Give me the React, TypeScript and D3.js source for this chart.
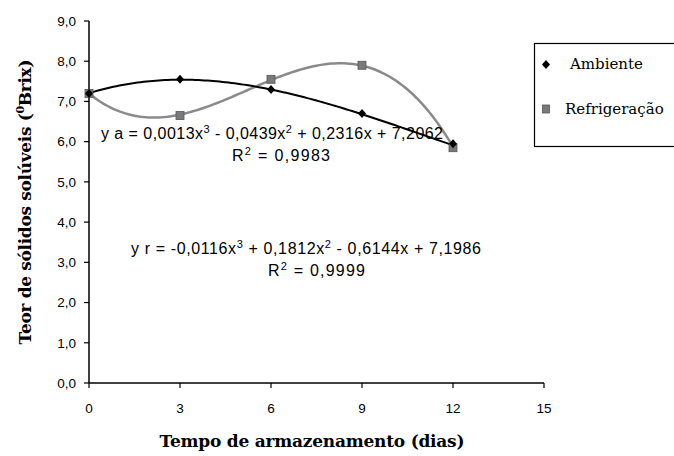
import React from "react";
import * as d3 from "d3";

// Storage time (days)
const days = [0, 3, 6, 9, 12];
// Soluble solids (°Brix) per storage condition
const ambiente = [7.2, 7.55, 7.3, 6.7, 5.95];
const refrigeracao = [7.2, 6.65, 7.55, 7.9, 5.85];

// Cubic trendline coefficients [a3, a2, a1, a0]
const coefAmbiente = [0.0013, -0.0439, 0.2316, 7.2062];
const coefRefrig = [-0.0116, 0.1812, -0.6144, 7.1986];

const xTicks = [0, 3, 6, 9, 12, 15];
const yTicks = [0, 1, 2, 3, 4, 5, 6, 7, 8, 9];

const W = 674;
const H = 456;
const sans = "Liberation Sans, Arial, sans-serif";
const serif = "DejaVu Serif, Liberation Serif, serif";

const x = d3.scaleLinear().domain([0, 15]).range([89, 544]);
const y = d3.scaleLinear().domain([0, 9]).range([383, 21]);

const poly = (c: number[], t: number) => c[0] * t ** 3 + c[1] * t ** 2 + c[2] * t + c[3];
const trendPts = (c: number[]) => d3.range(0, 12.001, 0.1).map((t) => [t, poly(c, t)] as [number, number]);
const line = d3
  .line<[number, number]>()
  .x((d) => x(d[0]))
  .y((d) => y(d[1]));

const fmt = (v: number) => v.toFixed(1).replace(".", ",");

function Sup({ t }: { t: string }) {
  return (
    <>
      <tspan dy={-6} fontSize={11}>
        {t}
      </tspan>
      <tspan dy={6}> </tspan>
    </>
  );
}

export default function App() {
  const grayLine = "#8a8a8a";
  return (
    <svg width={W} height={H} style={{ position: "absolute", left: 0, top: 0, background: "#fff" }}>
      <rect width={W} height={H} fill="#fff" />
      {/* axes */}
      <line x1={x(0)} x2={x(0)} y1={y(9)} y2={y(0)} stroke="#000" strokeWidth={1.5} />
      <line x1={x(0)} x2={x(15)} y1={y(0)} y2={y(0)} stroke="#000" strokeWidth={1.5} />
      {yTicks.map((v) => (
        <g key={"y" + v}>
          <line x1={x(0) - 5} x2={x(0)} y1={y(v)} y2={y(v)} stroke="#000" strokeWidth={1.2} />
          <text x={76} y={y(v)} dy="0.35em" textAnchor="end" fontFamily={sans} fontSize={13.5} fill="#000">
            {fmt(v)}
          </text>
        </g>
      ))}
      {xTicks.map((v) => (
        <g key={"x" + v}>
          <line x1={x(v)} x2={x(v)} y1={y(0)} y2={y(0) + 5} stroke="#000" strokeWidth={1.2} />
          <text x={x(v)} y={408} dy="0.35em" textAnchor="middle" fontFamily={sans} fontSize={13.5} fill="#000">
            {v}
          </text>
        </g>
      ))}

      {/* trendlines */}
      <path d={line(trendPts(coefRefrig)) || ""} fill="none" stroke={grayLine} strokeWidth={2.5} />
      <path d={line(trendPts(coefAmbiente)) || ""} fill="none" stroke="#000" strokeWidth={2} />

      {/* markers */}
      {days.map((d, i) => (
        <rect
          key={"r" + d}
          x={x(d) - 4}
          y={y(refrigeracao[i]) - 4}
          width={8}
          height={8}
          fill="#7a7a7a"
          stroke="#555"
          strokeWidth={0.8}
        />
      ))}
      {days.map((d, i) => (
        <path
          key={"a" + d}
          d={`M${x(d)},${y(ambiente[i]) - 4.5}L${x(d) + 4},${y(ambiente[i])}L${x(d)},${y(ambiente[i]) + 4.5}L${x(d) - 4},${y(ambiente[i])}Z`}
          fill="#000"
        />
      ))}

      {/* equations */}
      <text x={101} y={139} fontFamily={sans} fontSize={16} fill="#000" textLength={342}>
        y a = 0,0013x<Sup t="3" />- 0,0439x<Sup t="2" />+ 0,2316x + 7,2062
      </text>
      <text x={232} y={161} fontFamily={sans} fontSize={16} fill="#000" textLength={98}>
        R<tspan dy={-6} fontSize={11}>2</tspan>
        <tspan dy={6}> = 0,9983</tspan>
      </text>
      <text x={131} y={254} fontFamily={sans} fontSize={16} fill="#000" textLength={350}>
        y r = -0,0116x<Sup t="3" />+ 0,1812x<Sup t="2" />- 0,6144x + 7,1986
      </text>
      <text x={268} y={276} fontFamily={sans} fontSize={16} fill="#000" textLength={97}>
        R<tspan dy={-6} fontSize={11}>2</tspan>
        <tspan dy={6}> = 0,9999</tspan>
      </text>

      {/* legend */}
      <rect x={534.5} y={43.5} width={145} height={103} fill="#fff" stroke="#000" strokeWidth={1.2} />
      <path d="M546,60L550,64.5L546,69L542,64.5Z" fill="#000" />
      <text x={570} y={69} fontFamily={serif} fontSize={15} fill="#000">
        Ambiente
      </text>
      <rect x={542.5} y={105} width={7} height={8} fill="#7a7a7a" stroke="#555" strokeWidth={0.8} />
      <text x={565} y={114} fontFamily={serif} fontSize={15} fill="#000">
        Refrigeração
      </text>

      {/* axis titles */}
      <text
        transform={`translate(31,${y(4.5)}) rotate(-90)`}
        textAnchor="middle"
        fontFamily={serif}
        fontWeight="bold"
        fontSize={17}
        fill="#000"
        textLength={285}
      >
        Teor de sólidos solúveis (<tspan dy={-7} fontSize={11}>0</tspan>
        <tspan dy={7}>Brix)</tspan>
      </text>
      <text
        x={312}
        y={447}
        textAnchor="middle"
        fontFamily={serif}
        fontWeight="bold"
        fontSize={17}
        fill="#000"
        textLength={305}
      >
        Tempo de armazenamento (dias)
      </text>
    </svg>
  );
}
